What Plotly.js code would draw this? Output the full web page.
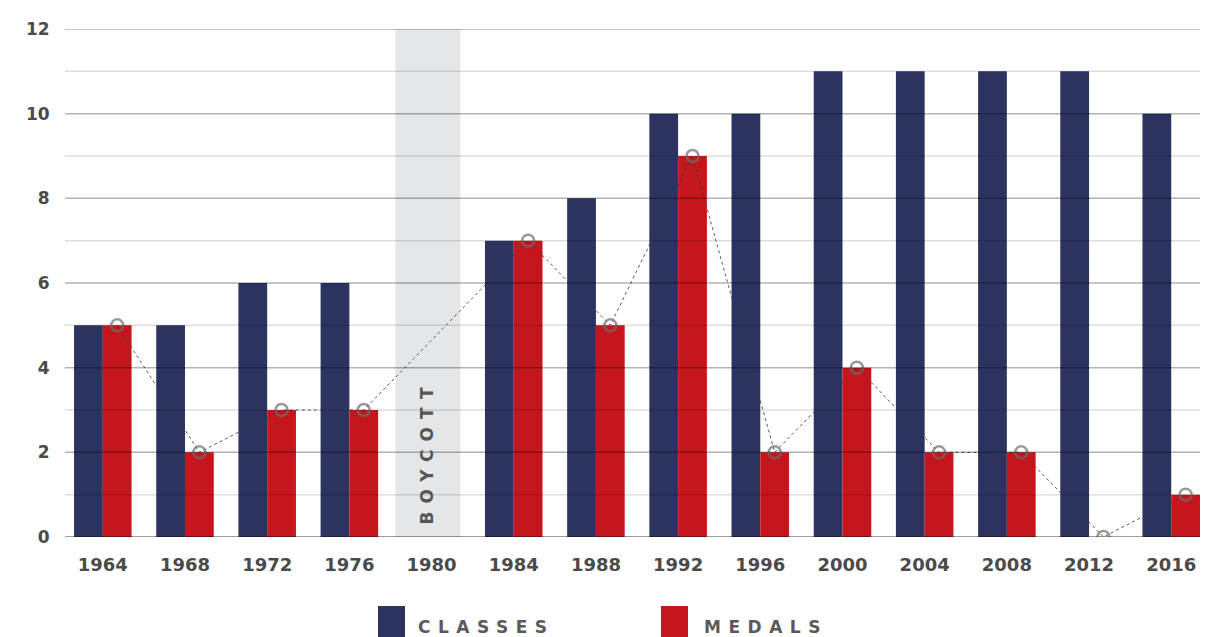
<!DOCTYPE html>
<html>
<head>
<meta charset="utf-8">
<script src="https://cdn.plot.ly/plotly-3.0.1.min.js"></script>
<style>html,body{margin:0;padding:0;background:#fff;}#chart{width:1223px;height:637px;}</style>
</head>
<body>
<div id="chart"></div>
<script>
const years = ["1964","1968","1972","1976","1980","1984","1988","1992","1996","2000","2004","2008","2012","2016"];
const classes = [5,5,6,6,null,7,8,10,10,11,11,11,11,10];
const medals  = [5,2,3,3,null,7,5,9,2,4,2,2,0,1];
const yTicks = [0,2,4,6,8,10,12];
const boycottYear = "1980";
const legendLabels = ["CLASSES","MEDALS"];

const NAVY = '#2c3360', RED = '#c4161c';
const idx = years.map((_, i) => i);
const BW = 0.35;

const traces = [
  {type:'bar', x: idx, y: classes, width: BW, offset: -BW, marker:{color:NAVY}, name:'Classes', hoverinfo:'y'},
  {type:'bar', x: idx, y: medals, width: BW, offset: 0, marker:{color:RED, line:{width:0}}, name:'Medals', hoverinfo:'y'},
  {type:'scatter', mode:'lines+markers', x: idx.map(i => i + BW/2), y: medals, connectgaps:true,
   line:{color:'rgba(60,60,60,0.85)', width:1, dash:'dot'},
   marker:{symbol:'circle-open', size:12, color:'rgba(110,110,110,0.7)', line:{width:2.5}},
   name:'Medals trend', hoverinfo:'y'}
];

const shapes = [];
const bIdx = years.indexOf(boycottYear);
shapes.push({type:'rect', xref:'x', yref:'y', x0:bIdx-0.44, x1:bIdx+0.35, y0:0, y1:12,
  fillcolor:'#e5e6e8', line:{width:0}, layer:'below'});
for (let k = 1; k <= 12; k++) {
  shapes.push({type:'line', xref:'paper', yref:'y', x0:0, x1:1, y0:k, y1:k, layer:'above',
    line:{color: k % 2 === 0 ? 'rgba(0,0,0,0.30)' : 'rgba(0,0,0,0.13)', width:1.5}});
}
shapes.push({type:'line', xref:'paper', yref:'y', x0:0, x1:1, y0:0, y1:0, layer:'above',
  line:{color:'rgba(0,0,0,0.38)', width:2}});

// legend squares (paper coords); plot area l=65 w=1135, t=29 h=508
const W = 1135, H = 508;
const px = v => (v - 65) / W;
const py = v => (537 - v) / H;
shapes.push({type:'rect', xref:'paper', yref:'paper', x0:px(378), x1:px(405), y0:py(637), y1:py(606), fillcolor:NAVY, line:{width:0}});
shapes.push({type:'rect', xref:'paper', yref:'paper', x0:px(661), x1:px(688), y0:py(637), y1:py(606), fillcolor:RED, line:{width:0}});

const annotations = [
  {xref:'x', yref:'paper', x:bIdx-0.05, y:py(452), xanchor:'center', yanchor:'middle',
   text:'<span style="letter-spacing:8px">BOYCOTT</span>', textangle:-90,
   showarrow:false, font:{family:'DejaVu Sans', size:17, color:'#555', weight:700}},
  {xref:'paper', yref:'paper', x:px(416), y:py(627), xanchor:'left', yanchor:'middle',
   text:'<span style="letter-spacing:7.5px">'+legendLabels[0]+'</span>', showarrow:false,
   font:{family:'DejaVu Sans', size:17, color:'#5a5a5a', weight:700}},
  {xref:'paper', yref:'paper', x:px(702), y:py(627), xanchor:'left', yanchor:'middle',
   text:'<span style="letter-spacing:7.5px">'+legendLabels[1]+'</span>', showarrow:false,
   font:{family:'DejaVu Sans', size:17, color:'#5a5a5a', weight:700}}
];

const layout = {
  width:1223, height:637,
  margin:{l:65, r:23, t:29, b:100},
  paper_bgcolor:'#fff', plot_bgcolor:'#fff',
  showlegend:false,
  barmode:'overlay',
  xaxis:{range:[-0.46, 13.35], tickmode:'array', tickvals: idx, ticktext: years,
    showgrid:false, zeroline:false, showline:false, ticks:'outside', ticklen:11, tickcolor:'rgba(0,0,0,0)',
    tickfont:{family:'DejaVu Sans', size:18, color:'#4a4a4a', weight:700}, fixedrange:true},
  yaxis:{range:[0,12], tickmode:'array', tickvals: yTicks, showgrid:false, zeroline:false, showline:false,
    ticks:'outside', ticklen:11, tickcolor:'rgba(0,0,0,0)',
    tickfont:{family:'DejaVu Sans', size:17, color:'#4a4a4a', weight:700}, fixedrange:true},
  shapes: shapes,
  annotations: annotations
};

Plotly.newPlot('chart', traces, layout, {displayModeBar:false, staticPlot:true});
</script>
</body>
</html>
